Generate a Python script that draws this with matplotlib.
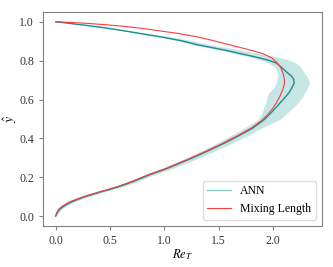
import matplotlib
matplotlib.use('Agg')
import matplotlib.pyplot as plt
from matplotlib.lines import Line2D

plt.rcParams['font.family'] = ['Liberation Serif', 'DejaVu Serif']
plt.rcParams['mathtext.fontset'] = 'stix'

# mixing length model: Re_T along y
ml_y = [0.000, 0.010, 0.020, 0.030, 0.040, 0.055, 0.074, 0.087, 0.100, 0.113,
        0.126, 0.138, 0.151, 0.166, 0.182, 0.200, 0.217, 0.241, 0.270, 0.298,
        0.333, 0.370, 0.410, 0.453, 0.490, 0.521, 0.552, 0.582, 0.617, 0.650,
        0.680, 0.702, 0.732, 0.762, 0.788, 0.814, 0.835, 0.850, 0.866, 0.885,
        0.905, 0.924, 0.940, 0.955, 0.967, 0.977, 0.985, 0.992, 0.997, 1.000]
ml_x = [0.000, 0.005, 0.012, 0.022, 0.037, 0.070, 0.130, 0.190, 0.253, 0.330,
        0.407, 0.485, 0.562, 0.640, 0.716, 0.795, 0.870, 0.994, 1.120, 1.240,
        1.380, 1.520, 1.660, 1.800, 1.890, 1.950, 1.995, 2.030, 2.065, 2.090,
        2.105, 2.105, 2.095, 2.074, 2.040, 1.990, 1.910, 1.820, 1.710, 1.575,
        1.435, 1.290, 1.125, 0.935, 0.780, 0.620, 0.450, 0.280, 0.120, 0.000]

# ANN mean and min/max spread
ann_y = [0.000, 0.010, 0.020, 0.030, 0.040, 0.055, 0.074, 0.087, 0.100, 0.113,
         0.126, 0.138, 0.151, 0.166, 0.182, 0.200, 0.217, 0.241, 0.270, 0.298,
         0.333, 0.370, 0.410, 0.453, 0.496, 0.530, 0.560, 0.582, 0.610, 0.633,
         0.660, 0.685, 0.705, 0.720, 0.737, 0.754, 0.770, 0.788, 0.805, 0.820,
         0.835, 0.850, 0.865, 0.882, 0.903, 0.919, 0.932, 0.945, 0.957, 0.969,
         0.980, 0.990, 1.000]
ann_x = [0.000, 0.008, 0.018, 0.030, 0.047, 0.085, 0.148, 0.208, 0.270, 0.347,
         0.422, 0.500, 0.577, 0.655, 0.731, 0.810, 0.885, 1.007, 1.133, 1.253,
         1.393, 1.533, 1.675, 1.815, 1.920, 1.980, 2.030, 2.065, 2.110, 2.145,
         2.175, 2.195, 2.190, 2.170, 2.135, 2.100, 2.070, 2.030, 1.940, 1.830,
         1.710, 1.590, 1.455, 1.300, 1.150, 1.000, 0.860, 0.720, 0.590, 0.450,
         0.300, 0.150, 0.000]
ann_lo = [0.000, 0.003, 0.008, 0.017, 0.032, 0.065, 0.123, 0.180, 0.240, 0.315,
          0.388, 0.464, 0.539, 0.615, 0.690, 0.770, 0.840, 0.957, 1.078, 1.193,
          1.328, 1.463, 1.600, 1.735, 1.860, 1.900, 1.915, 1.935, 1.945, 1.960,
          2.010, 2.030, 2.040, 2.045, 2.040, 2.030, 2.010, 1.960, 1.870, 1.780,
          1.650, 1.550, 1.425, 1.270, 1.120, 0.980, 0.840, 0.705, 0.580, 0.440,
          0.295, 0.148, 0.000]
ann_hi = [0.000, 0.013, 0.030, 0.045, 0.067, 0.110, 0.175, 0.237, 0.300, 0.380,
          0.457, 0.536, 0.615, 0.695, 0.772, 0.850, 0.930, 1.057, 1.188, 1.313,
          1.458, 1.603, 1.750, 1.895, 2.060, 2.130, 2.190, 2.230, 2.270, 2.290,
          2.320, 2.335, 2.325, 2.310, 2.290, 2.270, 2.250, 2.210, 2.140, 2.030,
          1.890, 1.745, 1.600, 1.420, 1.260, 1.090, 0.940, 0.780, 0.635, 0.480,
          0.320, 0.160, 0.000]

fig = plt.figure(figsize=(3.33, 2.67), dpi=100)
ax = fig.add_axes([0.129, 0.154, 0.838, 0.801])

ax.fill_betweenx(ann_y, ann_lo, ann_hi, color='#008b8b', alpha=0.22, lw=0)
ax.plot(ann_x, ann_y, color='#188f8f', lw=1.0)
ax.plot(ml_x, ml_y, color='#ff3b3b', lw=0.8)

for s in ax.spines.values():
    s.set_color('#808080')
ax.tick_params(labelsize=8.5, colors='#333333', length=3, color='#808080')
ax.set_xticks([0.0, 0.5, 1.0, 1.5, 2.0])
ax.set_yticks([0.0, 0.2, 0.4, 0.6, 0.8, 1.0])
ax.set_xlabel(r'$Re_T$', fontsize=9, labelpad=0)
ax.set_ylabel(r'$\hat{y}$', fontsize=10)
ax.yaxis.set_label_coords(-0.085, 0.5)

handles = [Line2D([], [], color='#88cccc', lw=1.0),
           Line2D([], [], color='#ff3b3b', lw=0.8)]
ax.legend(handles, ['ANN', 'Mixing Length'], loc='lower right', fontsize=8.5,
          framealpha=1, edgecolor='#dddddd', handlelength=2.0)

fig.savefig('out.png', dpi=100)
